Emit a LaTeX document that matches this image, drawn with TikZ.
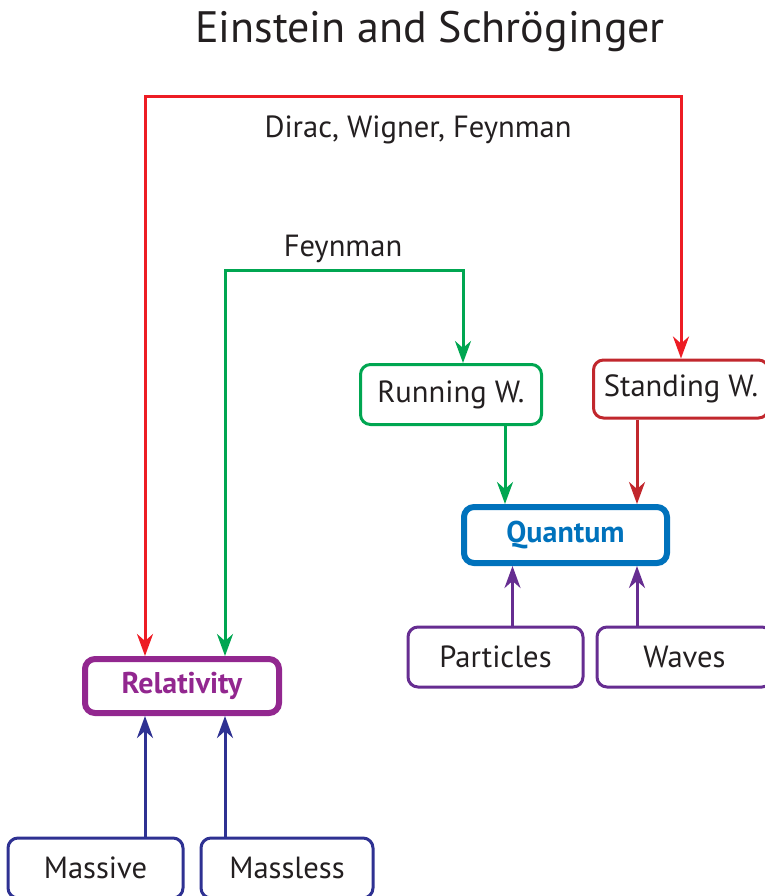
\documentclass[tikz,border=0pt]{standalone}
\usepackage{fontspec}
\setmainfont{PT Sans}
\usepackage{tikz}
\usetikzlibrary{positioning,arrows.meta}
\definecolor{cRed}  {HTML}{ED1C24}
\definecolor{cCrim} {HTML}{C1272D}
\definecolor{cGreen}{HTML}{00A651}
\definecolor{cBlue} {HTML}{0072BC}
\definecolor{cPurp} {HTML}{92278F}
\definecolor{cViol} {HTML}{662D91}
\definecolor{cNavy} {HTML}{2E3192}
\definecolor{cInk}  {HTML}{231F20}
\tikzset{
  >={Stealth[length=11pt,width=8pt,inset=3.5pt]},
  tbox/.style={rounded corners=5pt,draw,line width=1.5pt,align=center,inner sep=2pt,
               font=\fontsize{15.3}{18}\selectfont,text=cInk,minimum height=30pt},
  wbox/.style={tbox,minimum width=87.5pt},
  hbox/.style={tbox,line width=3pt,font=\fontsize{15}{18}\selectfont\bfseries,
               minimum height=28pt},
  lbl/.style={font=\fontsize{15.3}{18}\selectfont,text=cInk},
  sar/.style={->,line width=1.5pt},
  dar/.style={<->,line width=1.5pt},
}
\begin{document}
\begin{tikzpicture}[x=0.5pt,y=-0.5pt]
    \useasboundingbox (0,0) rectangle (765,896);
    \node[font=\fontsize{22}{26}\selectfont,text=cInk] (title) at (430,31) {Einstein and Schröginger};
    % wave boxes and the quantum box
    \node[wbox,draw=cGreen,minimum width=90.5pt] (run) at (451,394.5) {Running W.};
    \node[wbox,draw=cCrim,minimum height=29pt] (stand) at (681,389) {Standing W.};
    \node[hbox,draw=cBlue,text=cBlue,minimum width=101.5pt] (quant) at (565.5,535) {Quantum};
    \node[wbox,draw=cViol] (part) at (495.5,657) {Particles};
    \node[wbox,draw=cViol,right=5.5pt of part] (waves) {Waves};
    % relativity side
    \node[hbox,draw=cPurp,text=cPurp,minimum width=97pt,minimum height=27pt] (rel) at (182,686) {Relativity};
    \node[wbox,draw=cNavy] (massive) at (95.5,868) {Massive};
    \node[wbox,draw=cNavy,minimum width=86pt,right=7.5pt of massive] (massless) {Massless};
    \coordinate (redtop) at (145,96);
    \coordinate (grtop) at (225,270);
    \coordinate (qr) at (637,0);
    \draw[dar,cRed] (rel.north -| redtop)--(redtop)-|(stand.north);
    \draw[dar,cGreen] (rel.north -| grtop)--(grtop)-|([xshift=6pt]run.north);
    \node[lbl] (dwf) at (418,130) {Dirac, Wigner, Feynman};
    \node[lbl,above=0pt of grtop,xshift=59pt] (fey) {Feynman};
    \draw[sar,cGreen] ([xshift=27pt]run.south)--([xshift=27pt]run.south |- quant.north);
    \draw[sar,cCrim] (stand.south -| qr)--(quant.north -| qr);
    \draw[sar,cViol] ([xshift=8.5pt]part.north)--([xshift=8.5pt]part.north |- quant.south);
    \draw[sar,cViol] (waves.north -| qr)--(quant.south -| qr);
    \draw[sar,cNavy] (massive.north -| redtop)--(rel.south -| redtop);
    \draw[sar,cNavy] (massless.north -| grtop)--(rel.south -| grtop);
  \end{tikzpicture}
\end{document}
